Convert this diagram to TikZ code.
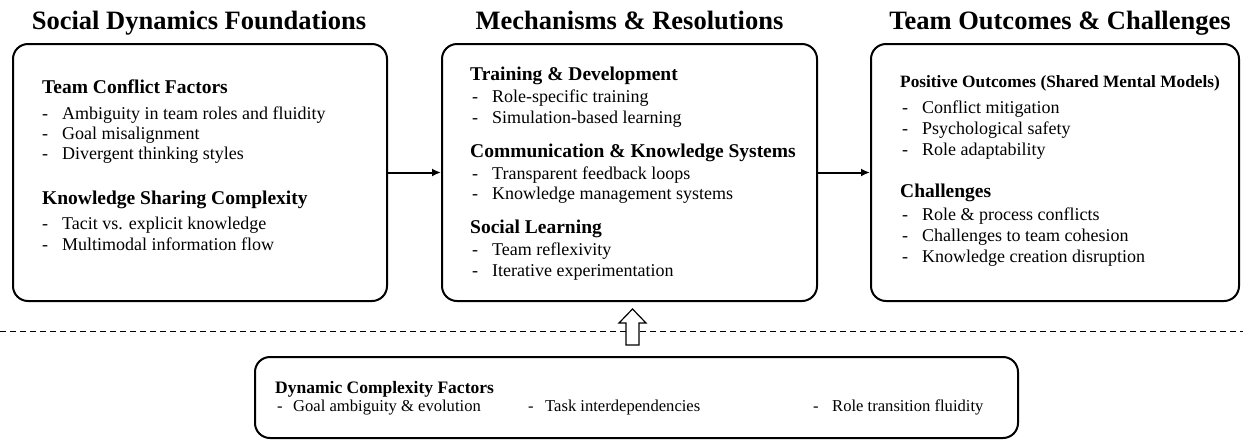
\documentclass[tikz,border=0pt]{standalone}
\usepackage{fontspec}
\setmainfont{Liberation Serif}
\usetikzlibrary{positioning,arrows.meta}

\tikzset{
  panel/.style={draw, line width=2pt, rounded corners=15pt, inner sep=0pt},
  coltitle/.style={anchor=base, inner sep=0pt, font=\fontsize{26.5}{30}\selectfont\bfseries},
  grouphead/.style={anchor=base west, inner sep=0pt, font=\fontsize{19.5}{22}\selectfont\bfseries},
  smallhead/.style={anchor=base west, inner sep=0pt, font=\fontsize{17.3}{20}\selectfont\bfseries},
  entry/.style={anchor=base west, inner sep=0pt, font=\fontsize{18}{21}\selectfont},
  lowhead/.style={anchor=base west, inner sep=0pt, font=\fontsize{17.5}{20}\selectfont\bfseries},
  lowentry/.style={anchor=base west, inner sep=0pt, font=\fontsize{16.6}{19}\selectfont},
  flow/.style={line width=2pt, -{Latex[length=9pt,width=8pt]}}
}
\newcommand{\hy}[1][20pt]{\makebox[#1][l]{-}}

\begin{document}
\begin{tikzpicture}[x=1pt, y=-1pt]
\useasboundingbox (0,0) rectangle (1243,440);

% column titles
\node[coltitle] (t1) at (199,29) {Social Dynamics Foundations};
\node[coltitle] (t2) at (629.5,29) {Mechanisms \& Resolutions};
\node[coltitle] (t3) at (1060,29) {Team Outcomes \& Challenges};

% the three panels
\node[panel, minimum width=374pt, minimum height=257pt] (found) at (200,172.5) {};
\node[panel, minimum width=375pt, minimum height=257pt] (mech) at (629.5,172.5) {};
\node[panel, minimum width=368pt, minimum height=257pt] (outc) at (1055,172.5) {};

\draw[flow] (found.east) -- (mech.west);
\draw[flow] (mech.east) -- (outc.west);

% left panel
\node[grouphead] (f1) at (42,93) {Team Conflict Factors};
\node[entry] (f1a) at (42,119) {\hy Ambiguity in team roles and fluidity};
\node[entry] (f1b) at (42,139) {\hy Goal misalignment};
\node[entry] (f1c) at (42,159) {\hy Divergent thinking styles};
\node[grouphead] (f2) at (42,204) {Knowledge Sharing Complexity};
\node[entry] (f2a) at (42,229) {\hy Tacit vs. explicit knowledge};
\node[entry] (f2b) at (42,250) {\hy Multimodal information flow};

% middle panel
\node[grouphead] (m1) at (470,80) {Training \& Development};
\node[entry] (m1a) at (472,102) {\hy Role-specific training};
\node[entry] (m1b) at (472,123) {\hy Simulation-based learning};
\node[grouphead] (m2) at (470,157) {Communication \& Knowledge Systems};
\node[entry] (m2a) at (472,179) {\hy Transparent feedback loops};
\node[entry] (m2b) at (472,199) {\hy Knowledge management systems};
\node[grouphead] (m3) at (470,233) {Social Learning};
\node[entry] (m3a) at (472,255) {\hy Team reflexivity};
\node[entry] (m3b) at (472,276) {\hy Iterative experimentation};

% right panel
\node[smallhead] (o1) at (900,87) {Positive Outcomes (Shared Mental Models)};
\node[entry] (o1a) at (902,113) {\hy Conflict mitigation};
\node[entry] (o1b) at (902,134) {\hy Psychological safety};
\node[entry] (o1c) at (902,155) {\hy Role adaptability};
\node[grouphead] (o2) at (900,197) {Challenges};
\node[entry] (o2a) at (902,220) {\hy Role \& process conflicts};
\node[entry] (o2b) at (902,241) {\hy Challenges to team cohesion};
\node[entry] (o2c) at (902,262) {\hy Knowledge creation disruption};

% separator
\coordinate (sepl) at (0,331);
\coordinate (sepr) at (1243,331);
\draw[line width=1pt, dash pattern=on 6pt off 4pt] (sepl) -- (sepr);

% bottom panel
\node[panel, minimum width=763pt, minimum height=81pt] (dyn) at (636.5,397.5) {};
\node[lowhead] (d1) at (275,393) {Dynamic Complexity Factors};
\node[lowentry] (d1a) at (277,411) {\hy[16pt]Goal ambiguity \& evolution};
\node[lowentry] (d1b) at (528,411) {\hy[17pt]Task interdependencies};
\node[lowentry] (d1c) at (813,411) {\hy[19pt]Role transition fluidity};

% hollow arrow from the bottom panel up
\draw[line width=1.2pt, fill=white]
  (626,345) -- (626,323) -- (619,323) -- (632.5,309) -- (646,323)
  -- (639,323) -- (639,345) -- cycle;

\end{tikzpicture}
\end{document}
